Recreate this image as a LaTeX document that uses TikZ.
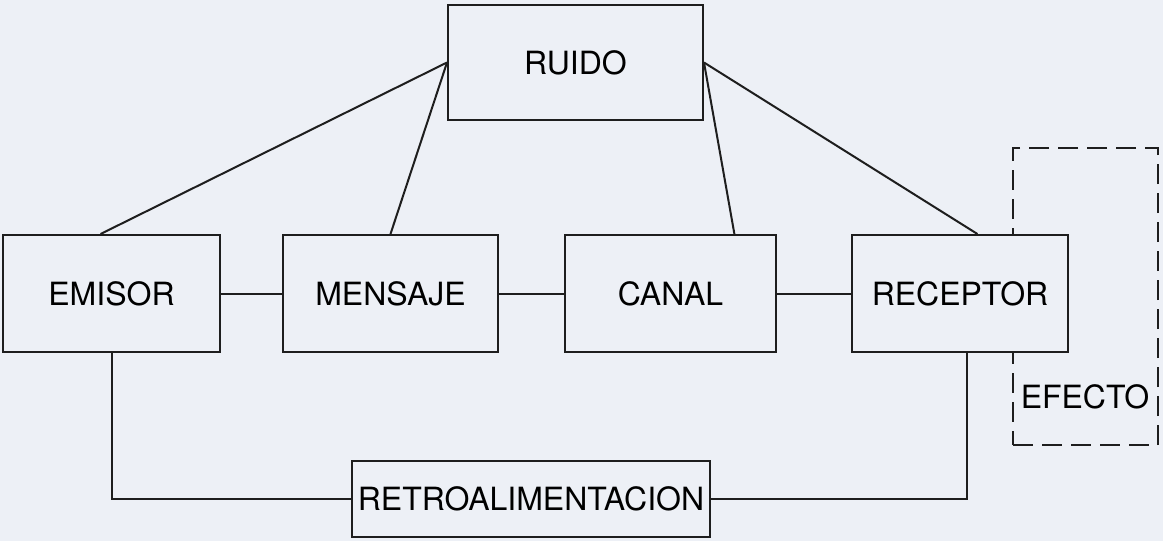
\documentclass[tikz,border=0pt]{standalone}
\usepackage{fontspec}
\setmainfont{TeX Gyre Heros}
\usetikzlibrary{calc}
\definecolor{paper}{RGB}{237,240,246}
\definecolor{ink}{RGB}{30,30,30}
\tikzset{
  box/.style={draw=ink, fill=paper, line width=2pt, inner sep=0pt, font=\fontsize{32}{38}\selectfont},
  link/.style={draw=ink, line width=2pt}
}
\begin{document}
\begin{tikzpicture}[x=1pt, y=-1pt]
\fill[paper] (0, 0) rectangle (1163, 541);
\useasboundingbox (0, 0) rectangle (1163, 541);
\node[draw=ink, line width=2pt, dash pattern=on 20pt off 9pt, minimum width=145pt, minimum height=297pt] (efectobox) at (1085.5, 296.5) {};
\node[font=\fontsize{32}{38}\selectfont, inner sep=0pt] (efecto) at (1085, 397) {EFECTO};
\node[box, minimum width=255pt, minimum height=115pt] (ruido) at (575.5, 62.5) {RUIDO};
\node[box, minimum width=217pt, minimum height=117pt] (emisor) at (111.5, 293.5) {EMISOR};
\node[box, minimum width=215pt, minimum height=117pt] (mensaje) at (390.5, 293.5) {MENSAJE};
\node[box, minimum width=211pt, minimum height=117pt] (canal) at (670.5, 293.5) {CANAL};
\node[box, minimum width=216pt, minimum height=117pt] (receptor) at (960, 293.5) {RECEPTOR};
\node[box, minimum width=358pt, minimum height=76pt] (retro) at (531, 499) {RETROALIMENTACION};
% ruido
\draw[link] (ruido.west) -- ($(emisor.north west)!0.45!(emisor.north east)$);
\draw[link] (ruido.west) -- (mensaje.north);
\draw[link] (ruido.east) -- ($(canal.north west)!0.8!(canal.north east)$);
\draw[link] (ruido.east) -- ($(receptor.north west)!0.58!(receptor.north east)$);
% cadena
\draw[link] (emisor) -- (mensaje);
\draw[link] (mensaje) -- (canal);
\draw[link] (canal) -- (receptor);
% retroalimentacion
\draw[link] (emisor.south) |- (retro.west);
\draw[link] ($(receptor.south west)!0.53!(receptor.south east)$) |- (retro.east);
\end{tikzpicture}
\end{document}
